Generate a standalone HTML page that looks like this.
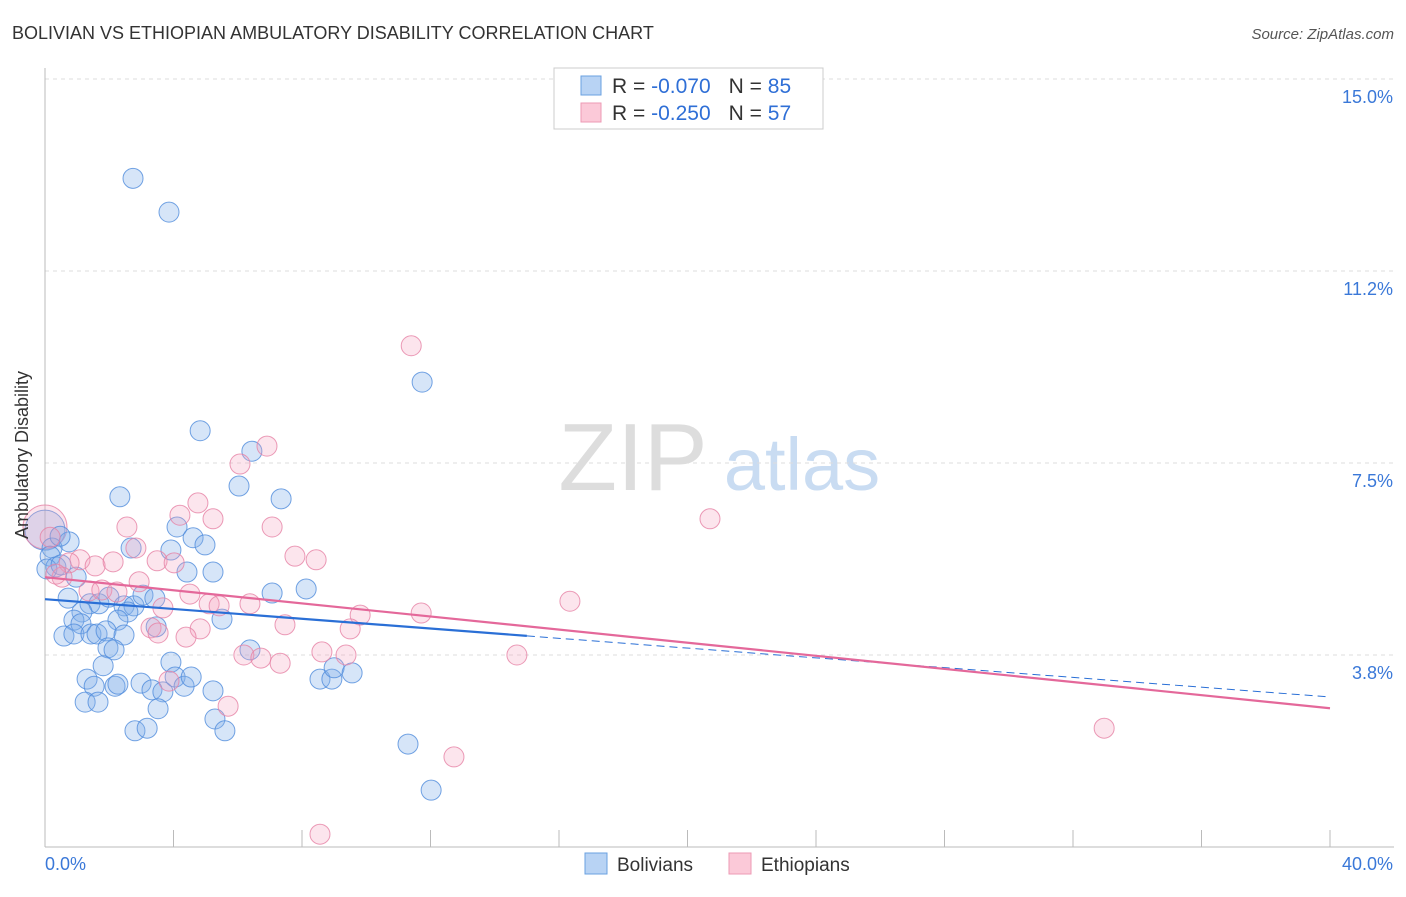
<!DOCTYPE html>
<html><head><meta charset="utf-8"><style>
body{margin:0;background:#fff;font-family:"Liberation Sans",sans-serif}
svg text{font-family:"Liberation Sans",sans-serif}
</style></head><body>
<svg width="1406" height="892">
<text x="12" y="39" font-size="18" fill="#333">BOLIVIAN VS ETHIOPIAN AMBULATORY DISABILITY CORRELATION CHART</text>
<text x="1394" y="39" font-size="15" fill="#555" text-anchor="end" font-style="italic">Source: ZipAtlas.com</text>
<g>
<text x="633" y="490" font-size="96" fill="#ddd" text-anchor="middle" font-family="Liberation Serif,serif">ZIP</text>
<text x="802" y="490" font-size="74" fill="#c9dcf2" text-anchor="middle">atlas</text>
</g>
<g id="grid"></g>
<g id="axes"></g>
<g id="marks"></g>
<g>
<rect x="554" y="68" width="269" height="61" fill="#fff" stroke="#ccc"/>
<rect x="581" y="76" width="20" height="19" fill="#b8d3f4" stroke="#6aa0e0"/>
<rect x="581" y="103" width="20" height="19" fill="#fbc9d8" stroke="#ec9ab4"/>
<text x="612" y="93" font-size="21" fill="#333">R = <tspan fill="#2f6fd6">-0.070</tspan><tspan dx="18">N = </tspan><tspan fill="#2f6fd6">85</tspan></text>
<text x="612" y="120" font-size="21" fill="#333">R = <tspan fill="#2f6fd6">-0.250</tspan><tspan dx="18">N = </tspan><tspan fill="#2f6fd6">57</tspan></text>
</g>
<g>
<rect x="585" y="853" width="22" height="21" fill="#b8d3f4" stroke="#6aa0e0"/>
<text x="617" y="871" font-size="19" fill="#333">Bolivians</text>
<rect x="729" y="853" width="22" height="21" fill="#fbc9d8" stroke="#ec9ab4"/>
<text x="761" y="871" font-size="19" fill="#333">Ethiopians</text>
</g>
<text x="28" y="455" font-size="18" fill="#333" transform="rotate(-90 28 455)" text-anchor="middle">Ambulatory Disability</text>
</svg>
<script>
const yTicks=[15,11.25,7.5,3.75];
const yTickLabels=["15.0%","11.2%","7.5%","3.8%"];
const xTickLabels=["0.0%","40.0%"];
const bolX=[2.74,3.86,11.74,4.83,6.44,6.04,7.35,2.33,4.11,4.61,4.98,2.68,3.92,0.75,0.22,0.16,0.34,0.06,0.50,0.97,4.42,5.23,7.07,8.13,0.72,1.40,1.68,1.99,2.46,2.77,3.05,3.42,2.58,1.15,0.90,1.12,2.27,5.51,0.59,0.90,1.43,1.62,1.90,2.46,3.46,1.96,2.15,6.38,3.92,1.81,1.31,1.53,2.18,2.27,2.99,3.33,3.67,4.05,4.33,4.55,5.23,1.25,1.65,3.52,5.29,2.80,3.18,5.60,8.56,8.93,9.00,9.56,11.30,12.02,0.47];
const bolY=[13.06,12.40,9.08,8.13,7.73,7.05,6.80,6.84,6.25,6.04,5.90,5.84,5.80,5.96,5.84,5.68,5.47,5.43,5.51,5.27,5.37,5.37,4.96,5.04,4.86,4.75,4.75,4.88,4.71,4.71,4.92,4.86,4.59,4.59,4.43,4.36,4.43,4.45,4.12,4.16,4.16,4.16,4.22,4.14,4.30,3.89,3.85,3.85,3.61,3.54,3.28,3.14,3.14,3.18,3.20,3.07,3.03,3.32,3.14,3.32,3.05,2.83,2.83,2.70,2.50,2.27,2.32,2.27,3.28,3.28,3.50,3.40,2.01,1.11,6.07];
const ethX=[11.40,6.91,6.07,4.76,4.20,5.23,7.07,2.55,20.70,7.78,8.44,2.83,1.09,0.75,1.56,2.12,3.49,4.02,0.53,2.93,1.37,1.77,2.24,4.51,3.67,5.11,5.42,6.38,16.34,11.71,9.81,7.47,9.50,4.83,3.30,3.52,4.39,6.19,6.72,7.32,8.62,9.37,14.69,3.86,5.70,12.73,8.56,32.97,0.16,0.34];
const ethY=[9.79,7.83,7.48,6.72,6.48,6.41,6.25,6.25,6.41,5.68,5.61,5.84,5.61,5.55,5.49,5.57,5.59,5.55,5.27,5.18,5.00,5.02,4.98,4.94,4.67,4.75,4.71,4.75,4.80,4.57,4.53,4.34,4.26,4.26,4.28,4.18,4.10,3.75,3.69,3.59,3.81,3.75,3.75,3.24,2.75,1.76,0.25,2.32,6.05,5.33];
const bigBol=[0,6.19];const bigEth=[0,6.25];
const bolTrend=[4.84,2.93];const ethTrend=[5.27,2.71];const bolSolidEnd=15;
const NS='http://www.w3.org/2000/svg';
const X=v=>45+v/40*1285, Y=v=>847-v*51.2;
function mk(t,a,p){const e=document.createElementNS(NS,t);for(const k in a)e.setAttribute(k,a[k]);p.appendChild(e);return e;}
const grid=document.getElementById('grid'),axes=document.getElementById('axes'),marks=document.getElementById('marks');
yTicks.forEach((v,i)=>{
 const l=mk('line',{x1:45,x2:1394,y1:Y(v),y2:Y(v),stroke:'#ddd','stroke-dasharray':'4,4'},grid);
 
 
 const t=mk('text',{x:1393,y:Y(v)+24,'font-size':18,fill:'#3a78d8','text-anchor':'end'},axes);t.textContent=yTickLabels[i];
 
 
});
mk('line',{x1:45,x2:45,y1:68,y2:847,stroke:'#bbb'},axes);
mk('line',{x1:45,x2:1394,y1:847,y2:847,stroke:'#bbb'},axes);
for(let i=0;i<=10;i++){const tk=mk('line',{x1:X(i*4),x2:X(i*4),y1:830,y2:847,stroke:'#bbb'},axes);
 
 }
const t0=mk('text',{x:45,y:870,'font-size':18,fill:'#3a78d8'},axes);t0.textContent=xTickLabels[0];


const t1=mk('text',{x:1393,y:870,'font-size':18,fill:'#3a78d8','text-anchor':'end'},axes);t1.textContent=xTickLabels[1];


function pt(x,y,r,c){const e=mk('circle',{cx:X(x),cy:Y(y),r:r,fill:c[0],stroke:c[1],'stroke-width':1},marks);return e;}
const BC=['rgba(130,175,235,0.33)','rgba(80,140,220,0.8)'],EC=['rgba(245,160,190,0.28)','rgba(230,130,165,0.8)'];
const bb=pt(bigBol[0],bigBol[1],20,BC);


const be=pt(bigEth[0],bigEth[1],22,EC);


bolX.forEach((x,i)=>{const e=pt(x,bolY[i],10,BC);
 
 });
ethX.forEach((x,i)=>{const e=pt(x,ethY[i],10,EC);
 
 });
const bAt=x=>bolTrend[0]+(bolTrend[1]-bolTrend[0])*x/40;
const l1=mk('line',{x1:X(0),y1:Y(bAt(0)),x2:X(bolSolidEnd),y2:Y(bAt(bolSolidEnd)),stroke:'#2a6fd6','stroke-width':2.2},marks);


const l2=mk('line',{x1:X(bolSolidEnd),y1:Y(bAt(bolSolidEnd)),x2:X(40),y2:Y(bAt(40)),stroke:'#2a6fd6','stroke-width':1,'stroke-dasharray':'8,5'},marks);


const l3=mk('line',{x1:X(0),y1:Y(ethTrend[0]),x2:X(40),y2:Y(ethTrend[1]),stroke:'#e4689a','stroke-width':2.2},marks);


</script>
</body></html>
